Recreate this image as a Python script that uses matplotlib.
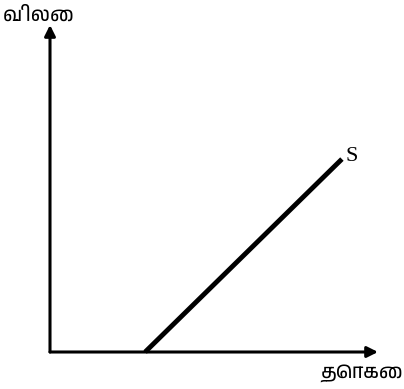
import matplotlib
matplotlib.use('Agg')
import matplotlib.pyplot as plt
from matplotlib import font_manager, ft2font

# supply curve, in axis units (both axes run 0..10)
supply_qty = [2.9, 8.9]
supply_price = [0.0, 5.9]

axis_max = 10
x_label = 'தொகை'
y_label = 'விலை'
curve_label = 'S'


# look for any installed font that has Tamil letters
def has_tamil(path):
    try:
        return 0x0BB5 in ft2font.FT2Font(path).get_charmap()
    except Exception:
        return False

tamil = sorted({f.name for f in font_manager.fontManager.ttflist if has_tamil(f.fname)})
tamil_family = tamil[:1] + ['DejaVu Sans']

W, H = 404, 389
fig = plt.figure(figsize=(W / 100, H / 100), dpi=100)
fig.patch.set_facecolor('white')

# axes box from origin (50, 352) to arrow tips (378, 25) in pixels
ax = fig.add_axes([50 / W, (H - 352) / H, (378 - 50) / W, (352 - 25) / H])
ax.set_xlim(0, axis_max)
ax.set_ylim(0, axis_max)
ax.axis('off')

arrow = dict(arrowstyle='-|>', lw=2.2, color='black', mutation_scale=16,
             shrinkA=0, shrinkB=0)
ax.annotate('', xy=(axis_max, 0), xytext=(0, 0), arrowprops=arrow,
            annotation_clip=False)
ax.annotate('', xy=(0, axis_max), xytext=(0, 0), arrowprops=arrow,
            annotation_clip=False)

ax.plot(supply_qty, supply_price, color='black', lw=3.5, solid_capstyle='butt',
        clip_on=False)

ax.text(supply_qty[1] + 0.1, supply_price[1] - 0.05, curve_label,
        family='Liberation Serif', fontsize=16, ha='left', va='baseline')

fig.text(39 / W, 1 - 15 / H, y_label, family=tamil_family, fontsize=14,
         ha='center', va='center')
fig.text(362 / W, 1 - 374 / H, x_label, family=tamil_family, fontsize=14,
         ha='center', va='center')

fig.savefig('out.png', dpi=100, facecolor='white')
